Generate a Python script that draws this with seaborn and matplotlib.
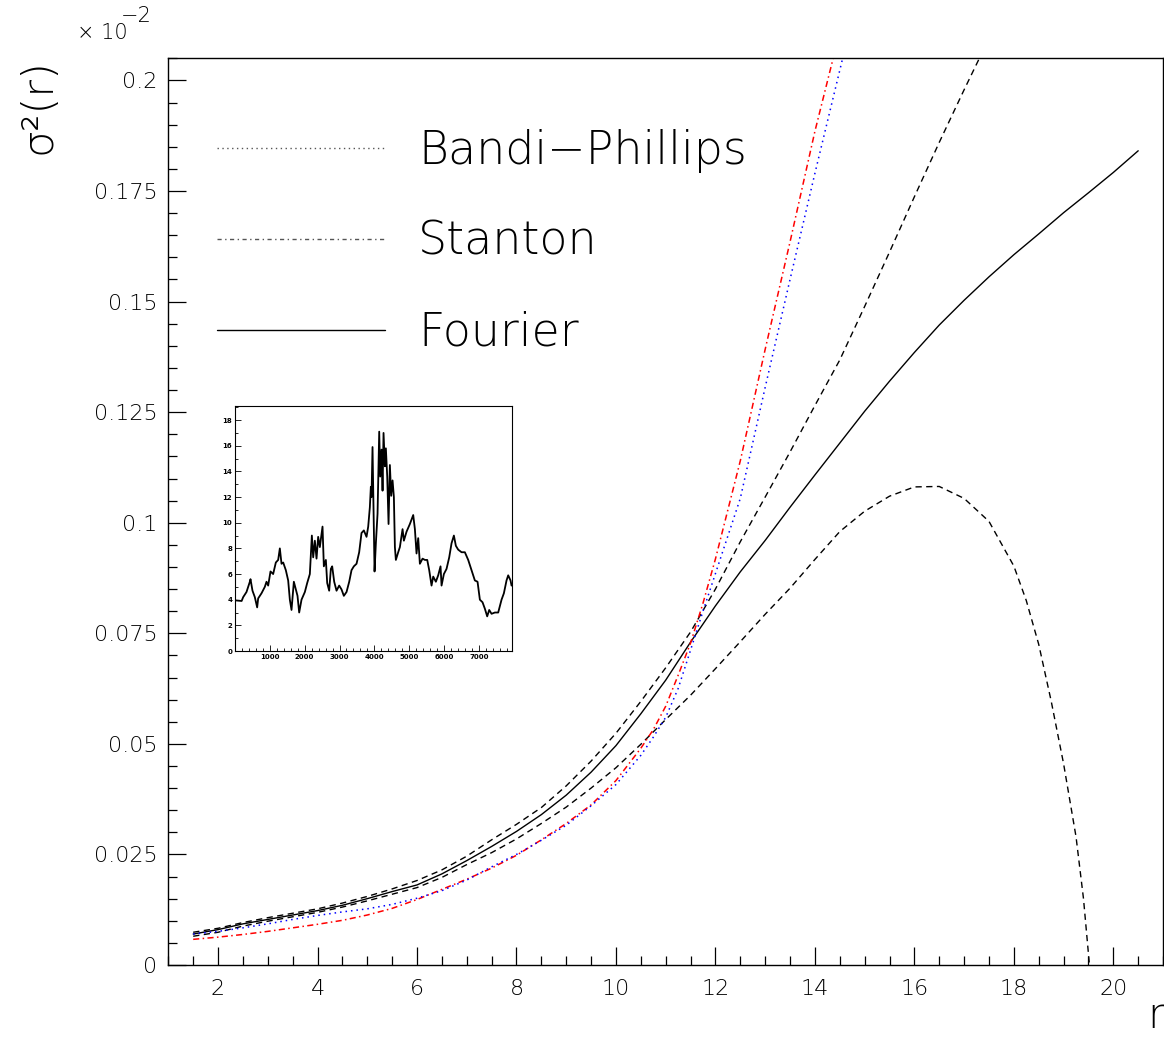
import matplotlib
matplotlib.use("Agg")
import matplotlib.pyplot as plt
from matplotlib.lines import Line2D
from matplotlib.ticker import MultipleLocator, FixedLocator, FuncFormatter
import seaborn as sns

# ---- variance estimates sigma^2(r), in units of 1e-2 ----
r_fourier = [1.5, 2, 2.5, 3, 3.5, 4, 4.5, 5, 5.5, 6, 6.5, 7, 7.5, 8, 8.5, 9, 9.5,
             10, 10.5, 11, 11.5, 12, 12.5, 13, 13.5, 14, 14.5, 15, 15.5, 16, 16.5,
             17, 17.5, 18, 18.5, 19, 19.5, 20, 20.5]
sig_fourier = [0.0070, 0.0080, 0.0093, 0.0103, 0.0113, 0.0123, 0.0135, 0.0150, 0.0166,
               0.0181, 0.0206, 0.0236, 0.0268, 0.0302, 0.0340, 0.0384, 0.0436, 0.0496,
               0.0568, 0.0644, 0.0730, 0.0812, 0.0889, 0.0960, 0.1035, 0.1108, 0.1180,
               0.1252, 0.1320, 0.1385, 0.1447, 0.1503, 0.1556, 0.1606, 0.1653, 0.1701,
               0.1746, 0.1792, 0.1841]

r_upper = [1.5, 2, 2.5, 3, 3.5, 4, 4.5, 5, 5.5, 6, 6.5, 7, 7.5, 8, 8.5, 9, 9.5, 10,
           10.5, 11, 11.5, 12, 12.5, 13, 13.5, 14, 14.5, 15, 15.5, 16, 16.5, 17, 17.5]
sig_upper = [0.0074, 0.0083, 0.0096, 0.0107, 0.0117, 0.0127, 0.0140, 0.0155, 0.0172,
             0.0191, 0.0215, 0.0246, 0.0283, 0.0318, 0.0356, 0.0405, 0.0461, 0.0524,
             0.0596, 0.0672, 0.0753, 0.0850, 0.0957, 0.1058, 0.1160, 0.1265, 0.1368,
             0.1489, 0.1612, 0.1737, 0.1860, 0.1979, 0.2095]

r_lower = [1.5, 2, 2.5, 3, 3.5, 4, 4.5, 5, 5.5, 6, 6.5, 7, 7.5, 8, 8.5, 9, 9.5, 10,
           10.5, 11, 11.5, 12, 12.5, 13, 13.5, 14, 14.5, 15, 15.5, 16, 16.5, 17, 17.5,
           18, 18.25, 18.5, 18.75, 19, 19.25, 19.4, 19.52]
sig_lower = [0.0065, 0.0074, 0.0088, 0.0099, 0.0109, 0.0119, 0.0131, 0.0145, 0.0160,
             0.0175, 0.0198, 0.0227, 0.0254, 0.0285, 0.0320, 0.0357, 0.0400, 0.0446,
             0.0499, 0.0555, 0.0610, 0.0670, 0.0731, 0.0793, 0.0852, 0.0917, 0.0980,
             0.1026, 0.1060, 0.1081, 0.1082, 0.1055, 0.1003, 0.0902, 0.0824, 0.0725,
             0.0597, 0.0455, 0.0290, 0.0150, 0.0]

r_stanton = [1.5, 2, 2.5, 3, 3.5, 4, 4.5, 5, 5.5, 6, 6.5, 7, 7.5, 8, 8.5, 9, 9.5, 10,
             10.5, 10.75, 11, 11.25, 11.5, 11.75, 12, 12.5, 13, 13.5, 14, 14.5]
sig_stanton = [0.0058, 0.0063, 0.0069, 0.0076, 0.0084, 0.0092, 0.0101, 0.0113, 0.0128,
               0.0148, 0.0171, 0.0194, 0.0219, 0.0248, 0.0283, 0.0320, 0.0362, 0.0417,
               0.0490, 0.0532, 0.0585, 0.0655, 0.0728, 0.0818, 0.0918, 0.1140, 0.1392,
               0.1635, 0.1885, 0.2110]

r_bandi = [1.5, 2, 2.5, 3, 3.5, 4, 4.5, 5, 5.5, 6, 6.5, 7, 7.5, 8, 8.5, 9, 9.5, 10,
           10.5, 10.75, 11, 11.25, 11.5, 11.75, 12, 12.5, 13, 13.5, 14, 14.5, 14.75]
sig_bandi = [0.0070, 0.0076, 0.0084, 0.0093, 0.0103, 0.0112, 0.0120, 0.0127, 0.0137,
             0.0151, 0.0168, 0.0192, 0.0222, 0.0250, 0.0282, 0.0316, 0.0360, 0.0408,
             0.0474, 0.0515, 0.0560, 0.0625, 0.0712, 0.0800, 0.0885, 0.1055, 0.1306,
             0.1550, 0.1790, 0.2023, 0.2140]

# ---- short-rate series shown in the inset ----
t_rate = [0, 190, 235, 330, 426, 445, 502, 569, 636, 665, 761, 856, 904, 952, 1019,
          1095, 1172, 1239, 1287, 1335, 1383, 1459, 1526, 1574, 1622, 1689, 1737, 1794,
          1842, 1909, 2005, 2072, 2148, 2206, 2244, 2292, 2340, 2387, 2435, 2512, 2550,
          2608, 2646, 2703, 2751, 2789, 2847, 2914, 2990, 3057, 3124, 3201, 3278, 3344,
          3411, 3488, 3564, 3631, 3698, 3775, 3823, 3870, 3899, 3918, 3947, 3976, 4005,
          4043, 4091, 4139, 4168, 4206, 4235, 4263, 4302, 4330, 4369, 4407, 4445, 4483,
          4522, 4560, 4589, 4617, 4684, 4732, 4809, 4847, 4923, 5019, 5115, 5163, 5210,
          5258, 5306, 5383, 5450, 5517, 5574, 5641, 5689, 5765, 5832, 5899, 5928, 5995,
          6071, 6148, 6215, 6282, 6339, 6406, 6502, 6597, 6693, 6789, 6884, 6961, 7028,
          7104, 7171, 7238, 7296, 7363, 7459, 7554, 7650, 7717, 7793, 7841, 7908, 7937]
rate = [3.95, 3.9, 4.2, 4.6, 5.4, 5.6, 4.7, 4.2, 3.4, 4.1, 4.5, 5.0, 5.4, 5.1, 6.2,
        6.0, 6.9, 7.1, 8.0, 6.8, 6.9, 6.3, 5.5, 4.0, 3.2, 5.4, 4.9, 4.3,
        3.0, 4.0, 4.6, 5.3, 6.0, 9.0, 7.3, 8.6, 7.2, 8.9, 8.1, 9.7, 6.6,
        7.1, 5.3, 4.7, 6.4, 6.6, 5.4, 4.7, 5.1, 4.8, 4.3, 4.6, 5.4, 6.3,
        6.6, 6.8, 7.7, 9.2, 9.4, 8.9, 9.7, 11.2, 12.8, 12.0, 15.9, 11.0, 6.2,
        8.4, 10.7, 17.1, 13.6, 15.7, 12.5, 17.0, 14.4, 15.8, 13.6, 9.9, 14.5, 12.1,
        13.3, 12.0, 8.1, 7.1, 7.7, 8.1, 9.5, 8.6, 9.3, 9.9, 10.6, 9.5, 7.6,
        8.8, 6.8, 7.2, 7.1, 7.1, 6.3, 5.1, 5.8, 5.4, 5.9, 6.6, 5.1, 6.0,
        6.4, 7.3, 8.4, 9.0, 8.2, 7.9, 7.7, 7.7, 7.1, 6.3, 5.5, 5.4, 4.0,
        3.8, 3.3, 2.7, 3.2, 2.9, 3.0, 3.0, 4.0, 4.5, 5.5, 5.9, 5.5, 5.1]

legend_labels = ["Bandi\u2212Phillips", "Stanton", "Fourier"]

sns.set_style("white")
plt.rcParams["font.family"] = ["DejaVu Sans"]
plt.rcParams["font.weight"] = 200
plt.rcParams["text.color"] = "black"
plt.rcParams["xtick.color"] = "black"
plt.rcParams["ytick.color"] = "black"
plt.rcParams["axes.linewidth"] = 1.0

fig = plt.figure(figsize=(11.64, 10.42), dpi=100)
ax = fig.add_axes([0.1446, 0.0739, 0.8546, 0.8701])

dash = (0, (4.5, 3.2))
sns.lineplot(x=r_upper, y=sig_upper, ax=ax, color="black", lw=1.0, linestyle=dash)
sns.lineplot(x=r_lower, y=sig_lower, ax=ax, color="black", lw=1.0, linestyle=dash)
sns.lineplot(x=r_fourier, y=sig_fourier, ax=ax, color="black", lw=1.0)
sns.lineplot(x=r_stanton, y=sig_stanton, ax=ax, color="red", lw=1.1,
             linestyle=(0, (4.0, 2.2, 1.0, 2.2)))
sns.lineplot(x=r_bandi, y=sig_bandi, ax=ax, color="blue", lw=1.1,
             linestyle=(0, (1.0, 2.6)))

ax.set_xlim(1, 21)
ax.set_ylim(0, 0.205)
ax.set_xlabel("")
ax.set_ylabel("")
ax.xaxis.set_major_locator(MultipleLocator(2))
ax.xaxis.set_minor_locator(MultipleLocator(0.5))
ax.yaxis.set_major_locator(MultipleLocator(0.025))
ax.yaxis.set_minor_locator(MultipleLocator(0.005))
ax.yaxis.set_major_formatter(FuncFormatter(lambda v, p: f"{v:g}"))
ax.tick_params(which="both", direction="in", bottom=True, left=True, top=False,
               right=False, labelsize=16, color="black", labelcolor="black", width=0.9)
ax.tick_params(which="major", length=13)
ax.tick_params(which="minor", length=6.5)
ax.tick_params(axis="x", which="major", pad=10)
ax.tick_params(axis="y", which="major", pad=8)
for sp in ax.spines.values():
    sp.set_visible(True)
    sp.set_color("black")
    sp.set_linewidth(1.0)

handles = [
    Line2D([], [], color="#555555", lw=1.0, linestyle=(0, (1.0, 2.5))),
    Line2D([], [], color="#555555", lw=1.0, linestyle=(0, (3.0, 2.5, 1.0, 2.5))),
    Line2D([], [], color="black", lw=1.0),
]
leg = ax.legend(handles, legend_labels, loc="upper left", bbox_to_anchor=(0.049, 0.922),
                frameon=False, fontsize=33, handlelength=3.67, handletextpad=0.72,
                labelspacing=1.02, borderaxespad=0, borderpad=0)
for t in leg.get_texts():
    t.set_color("black")

# axis titles and exponent
fig.text(38 / 1164, 1 - 106 / 1042, "\u03c3\u00b2(r)", rotation=90, ha="center",
         va="center", fontsize=31, color="black")
fig.text(77 / 1164, 1 - 39 / 1042, "\u00d7 10", ha="left", va="baseline", fontsize=15,
         color="black")
fig.text(121 / 1164, 1 - 22 / 1042, "\u22122", ha="left", va="baseline", fontsize=15,
         color="black")
fig.text(1156 / 1164, 1 - 1015 / 1042, "r", ha="center", va="center", fontsize=30,
         color="black")

# inset with the rate series
axi = fig.add_axes([235 / 1164, 1 - 651 / 1042, 277 / 1164, 245 / 1042])
sns.lineplot(x=t_rate, y=rate, ax=axi, color="black", lw=1.3)
axi.set_xlim(0, 7950)
axi.set_ylim(0, 19.1)
axi.set_xlabel("")
axi.set_ylabel("")
axi.xaxis.set_major_locator(FixedLocator([1000, 2000, 3000, 4000, 5000, 6000, 7000]))
axi.xaxis.set_minor_locator(MultipleLocator(200))
axi.yaxis.set_major_locator(MultipleLocator(2))
axi.yaxis.set_minor_locator(MultipleLocator(1))
axi.tick_params(which="both", direction="in", bottom=True, left=True, top=False,
                right=False, labelsize=5, width=0.6, pad=2, color="black",
                labelcolor="black")
axi.tick_params(which="major", length=4)
axi.tick_params(which="minor", length=2)
for lab in axi.get_xticklabels() + axi.get_yticklabels():
    lab.set_fontweight("bold")
for sp in axi.spines.values():
    sp.set_visible(True)
    sp.set_color("black")
    sp.set_linewidth(0.8)

fig.savefig("out.png", dpi=100)
